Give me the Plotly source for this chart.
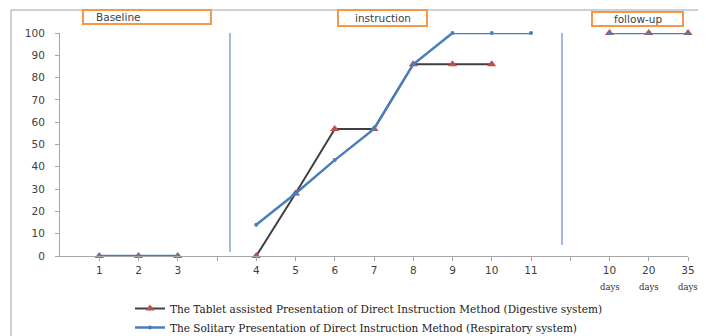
import plotly.graph_objects as go

# Category labels along x (blank slots between phases)
tick_labels = ["1", "2", "3", "", "4", "5", "6", "7", "8", "9", "10", "11", "", "10", "20", "35"]
positions = list(range(1, 17))

# Series values (None = gap between phases)
tablet = [0, 0, 0, None, 0, 28, 57, 57, 86, 86, 86, None, None, 100, 100, 100]
solitary = [0, 0, 0, None, 14, 28, 43, 57, 86, 100, 100, 100, None, 100, 100, 100]

name_tablet = "The Tablet assisted Presentation of Direct Instruction Method (Digestive system)"
name_solitary = "The Solitary Presentation of Direct Instruction Method (Respiratory system)"

phase_names = ["Baseline", "instruction", "follow-up"]
phase_lines = [4.33, 12.79]

# page body has an 8px margin: compensate so the plot lands where the reference has it
OFF = 8
W, H = 706 - OFF, 336 - OFF
L, T, PW, PH = 60 - OFF, 33 - OFF, 628, 223


def px_x(sx):  # screen x -> paper x
    return (sx - 60) / PW


def px_y(sy):  # screen y -> paper y
    return (256 - sy) / PH


fig = go.Figure()
fig.add_trace(go.Scatter(
    x=positions, y=tablet, name=name_tablet, mode="lines+markers",
    line=dict(color="#404040", width=2),
    marker=dict(symbol="triangle-up", size=8, color="#c0504d"),
    cliponaxis=False, connectgaps=False,
))
fig.add_trace(go.Scatter(
    x=positions, y=solitary, name=name_solitary, mode="lines+markers",
    line=dict(color="#4a7ebb", width=2.5),
    marker=dict(symbol="circle", size=4, color="#4a7ebb"),
    cliponaxis=False, connectgaps=False,
))

# Phase separators
fig.add_shape(type="line", xref="x", yref="y", x0=phase_lines[0], x1=phase_lines[0],
              y0=1.8, y1=105, line=dict(color="#9dbbe0", width=2))
fig.add_shape(type="line", xref="x", yref="y", x0=phase_lines[1], x1=phase_lines[1],
              y0=5, y1=110, line=dict(color="#9dbbe0", width=2))

# Outer frame (left and top)
fig.add_shape(type="path", xref="paper", yref="paper",
              path=f"M {px_x(11)} {px_y(340)} L {px_x(11)} {px_y(10)} L {px_x(720)} {px_y(10)}",
              line=dict(color="#a0a0a0", width=1))

# Phase label boxes
boxes = [(83, 211, 10, 24), (338, 427, 10, 26), (592, 683, 12, 26)]
for (x0, x1, y0, y1), txt in zip(boxes, phase_names):
    bx0, bx1 = px_x(x0), px_x(x1)
    by0, by1 = px_y(y1), px_y(y0)
    fig.add_shape(type="rect", xref="paper", yref="paper", x0=bx0, x1=bx1, y0=by0, y1=by1,
                  line=dict(color="#f79646", width=2), fillcolor="white")
    if txt == "Baseline":
        fig.add_annotation(xref="paper", yref="paper", x=px_x(94), xanchor="left",
                           y=(by0 + by1) / 2, yanchor="middle", text=txt, showarrow=False,
                           font=dict(family="DejaVu Sans", size=10.5, color="#404040"))
    else:
        fig.add_annotation(xref="paper", yref="paper", x=(bx0 + bx1) / 2, xanchor="center",
                           y=(by0 + by1) / 2, yanchor="middle", text=txt, showarrow=False,
                           font=dict(family="DejaVu Sans", size=10.5, color="#404040"))

# "days" under follow-up ticks
for p in positions[13:]:
    fig.add_annotation(xref="x", yref="paper", x=p, y=px_y(287), yanchor="middle",
                       text="days", showarrow=False,
                       font=dict(family="DejaVu Serif", size=8.5, color="#303030"))

fig.update_layout(
    width=W, height=H,
    margin=dict(l=L, r=W - L - PW, t=T, b=H - T - PH, autoexpand=False),
    plot_bgcolor="white", paper_bgcolor="white",
    showlegend=True,
    legend=dict(x=px_x(130), y=px_y(294), xanchor="left", yanchor="top",
                font=dict(family="DejaVu Serif", size=10.5, color="#202020"),
                bgcolor="rgba(0,0,0,0)", tracegroupgap=0, itemwidth=30),
    xaxis=dict(range=[0, 16], tickmode="array", tickvals=positions, ticktext=tick_labels,
               showgrid=False, zeroline=False, showline=True, linecolor="#a6a6a6", linewidth=1,
               ticks="outside", ticklen=4, tickcolor="#a6a6a6",
               tickfont=dict(family="DejaVu Sans", size=10.5, color="#404040")),
    yaxis=dict(range=[0, 100], tickmode="array", tickvals=list(range(0, 101, 10)),
               showgrid=False, zeroline=False, showline=True, linecolor="#a6a6a6", linewidth=1,
               ticks="outside", ticklen=4, tickcolor="#a6a6a6", ticklabelstandoff=8,
               tickfont=dict(family="DejaVu Sans", size=10.5, color="#404040")),
)

fig.write_html("out.html")
